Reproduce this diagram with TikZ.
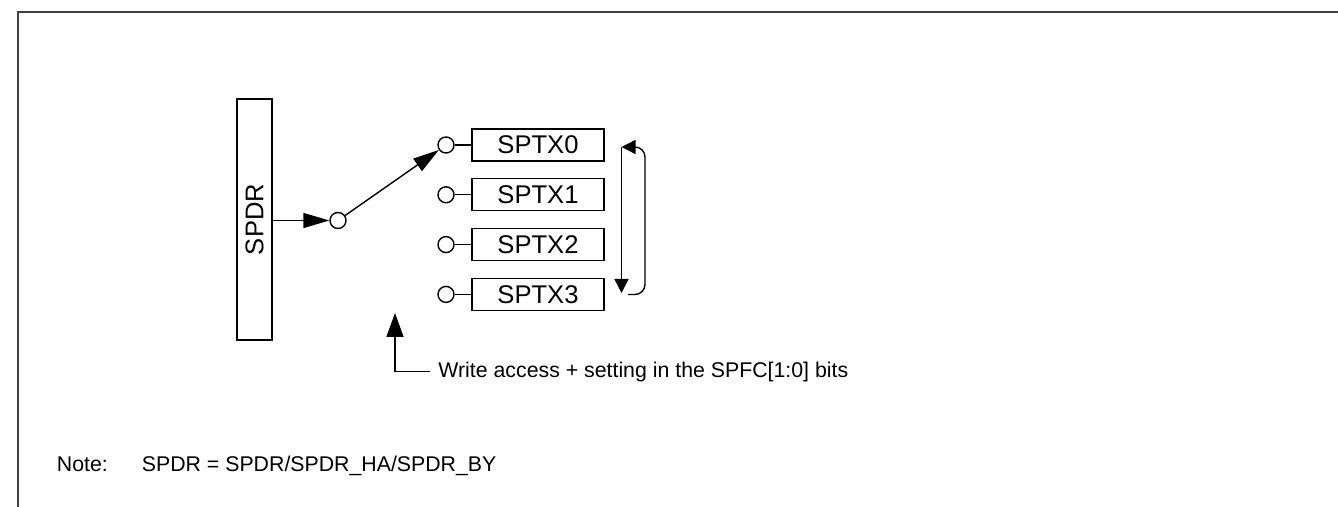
\documentclass[tikz,border=0pt]{standalone}
\usepackage{fontspec}
\setmainfont{Liberation Sans}
\usepackage{tikz}
\usetikzlibrary{
  arrows.meta,
  positioning,
  calc
}
\definecolor{spFrame}{HTML}{404040}
\definecolor{spLine}{HTML}{000000}
\tikzset{
  spnode/.style={
    draw=spLine, line width=0.7pt, inner sep=0pt,
    font=\fontsize{12.8}{15}\selectfont, align=center
  },
  regbox/.style={spnode, minimum width=120.5pt, minimum height=17.5pt},
  txbox/.style={spnode, minimum width=66pt, minimum height=16pt},
  pinring/.style={draw=spLine, circle, line width=0.7pt, inner sep=0pt, minimum size=8pt},
  notetext/.style={font=\fontsize{10.65}{13}\selectfont, inner sep=0pt},
  wire/.style={line width=0.7pt, spLine},
  feed/.style={wire, -{Triangle[length=13pt, width=7.5pt]}},
  select/.style={wire, -{Triangle[length=12pt, width=8.5pt]}},
  cycle/.style={wire, -{Triangle[length=7pt, width=7pt]}},
  frameline/.style={line width=1pt, spFrame}
}

\begin{document}
\begin{tikzpicture}[x=0.5pt, y=-0.5pt]
  \useasboundingbox (0,0) rectangle (1338,507);
  \draw[frameline] (1338,12) -| (18,507);

  \node[regbox, rotate=90] (spdr) at (254.5,219.5) {SPDR};
  \node[pinring] (sw) at (338,220.5) {};
  \draw[feed] (spdr.south |- sw) -- (sw);

  \foreach \i in {0,...,3}{
    \node[pinring] (c\i) at (446,{145+49.8*\i}) {};
    \node[txbox] (tx\i) at (538,{145+49.8*\i}) {SPTX\i};
    \draw[wire] (c\i) -- (tx\i);
  }
  \draw[feed] (sw) -- (c0);

  \coordinate (ltop) at (621.5,147);
  \coordinate (lbot) at (621.5,293);
  \coordinate (bstart) at (628,294.5);
  \coordinate (rtop) at (645,147);
  \draw[cycle] (ltop) -- (lbot);
  \draw[cycle, rounded corners=5pt] (bstart) -| (rtop) -- (ltop);

  \coordinate (wtip) at (395,313);
  \node[notetext, anchor=west, inner sep=0pt] (wnote) at (438,371.5)
    {Write access + setting in the SPFC[1:0] bits};
  \draw[select] ($(wnote.west)+(-8,0)$) -| (wtip);

  \node[notetext, anchor=base west] (notehd) at (56.5,471.5) {Note:};
  \node[notetext, anchor=base west] (notebody) at (141.5,471.5)
    {SPDR = SPDR/SPDR\_HA/SPDR\_BY};
\end{tikzpicture}
\end{document}
